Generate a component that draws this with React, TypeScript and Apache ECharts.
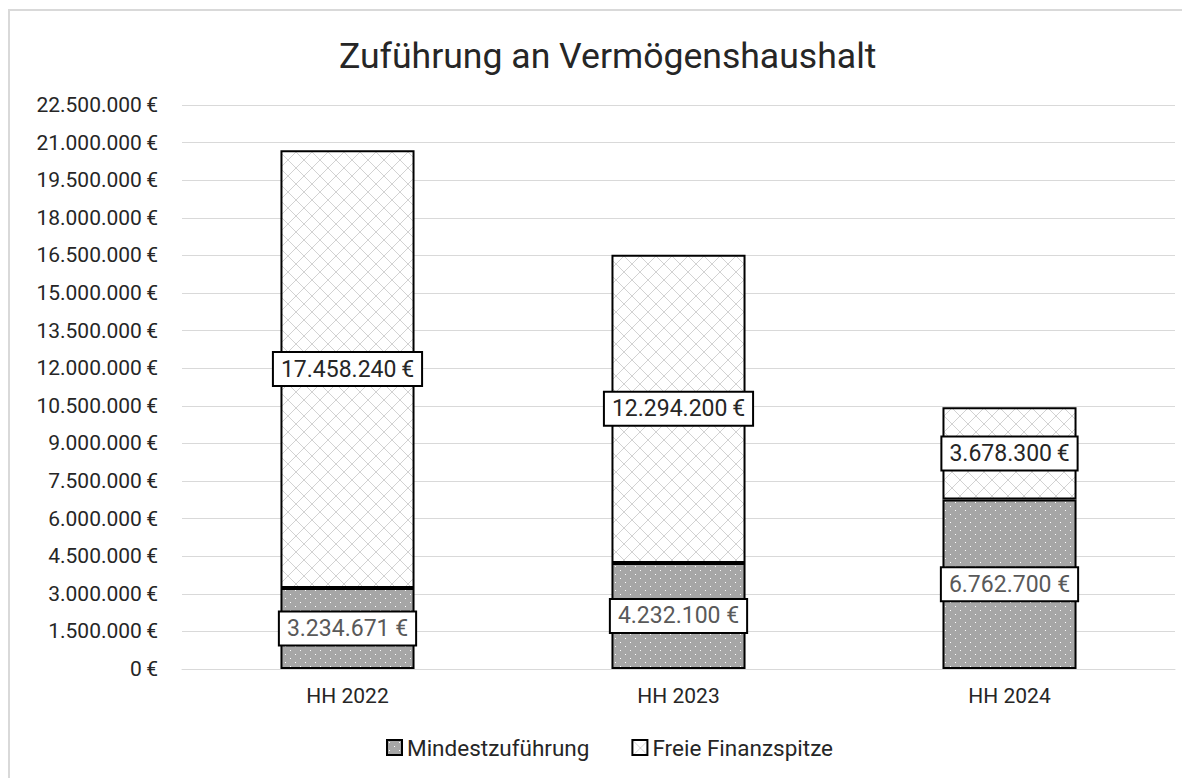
import React, { useEffect, useRef } from "react";
import * as echarts from "echarts";

const categories = ["HH 2022", "HH 2023", "HH 2024"];
const mindestzufuehrung = [3234671, 4232100, 6762700];
const freieFinanzspitze = [17458240, 12294200, 3678300];
const seriesNames = ["Mindestzuführung", "Freie Finanzspitze"];
const titleText = "Zuführung an Vermögenshaushalt";

const fmt = (n: number) => String(Math.round(n)).replace(/\B(?=(\d{3})+(?!\d))/g, ".");

function dotPattern(): HTMLCanvasElement {
  const c = document.createElement("canvas");
  c.width = 10;
  c.height = 8;
  const ctx = c.getContext("2d")!;
  ctx.fillStyle = "#a6a6a6";
  ctx.fillRect(0, 0, 10, 8);
  ctx.fillStyle = "#ffffff";
  ctx.fillRect(2, 2, 1, 1);
  ctx.fillRect(7, 6, 1, 1);
  return c;
}

function latticePattern(): HTMLCanvasElement {
  const s = 16;
  const c = document.createElement("canvas");
  c.width = s;
  c.height = s;
  const ctx = c.getContext("2d")!;
  ctx.fillStyle = "#ffffff";
  ctx.fillRect(0, 0, s, s);
  ctx.strokeStyle = "#d2d2d2";
  ctx.lineWidth = 1;
  ctx.beginPath();
  ctx.moveTo(0, 0);
  ctx.lineTo(s, s);
  ctx.moveTo(s, 0);
  ctx.lineTo(0, s);
  ctx.stroke();
  return c;
}

export default function App() {
  const ref = useRef<HTMLDivElement>(null);
  useEffect(() => {
    if (!ref.current) return;
    const chart = echarts.init(ref.current, undefined, { renderer: "svg" });
    const font = "Roboto";
    const labelBase = {
      show: true,
      position: "inside",
      fontFamily: font,
      fontSize: 23,
      backgroundColor: "#ffffff",
      borderColor: "#000000",
      borderWidth: 2,
      padding: [5, 7, 4, 7],
    };
    chart.setOption({
      animation: false,
      backgroundColor: "#ffffff",
      textStyle: { fontFamily: font },
      title: {
        text: titleText,
        left: 326,
        top: 25,
        textStyle: { fontFamily: font, fontSize: 35.6, fontWeight: "normal", color: "#262626" },
      },
      graphic: [
        {
          type: "rect",
          shape: { x: 1, y: 2, width: 1300, height: 900 },
          style: { fill: "none", stroke: "#d9d9d9", lineWidth: 2 },
          silent: true,
        },
      ],
      legend: {
        top: 723,
        left: 373,
        icon: "rect",
        itemWidth: 15,
        itemHeight: 15,
        itemGap: 42,
        textStyle: { fontFamily: font, fontSize: 22.5, color: "#262626" },
        data: seriesNames,
      },
      grid: { left: 174, right: 15, top: 97, bottom: 109, containLabel: false },
      xAxis: {
        type: "category",
        data: categories,
        axisLine: { show: true, lineStyle: { color: "#d9d9d9", width: 1 } },
        axisTick: { show: false },
        axisLabel: { fontFamily: font, fontSize: 21, color: "#262626", margin: 16 },
      },
      yAxis: {
        type: "value",
        min: 0,
        max: 22500000,
        interval: 1500000,
        axisLine: { show: false },
        axisTick: { show: false },
        splitLine: { lineStyle: { color: "#d9d9d9", width: 1 } },
        axisLabel: {
          fontFamily: font,
          fontSize: 21,
          color: "#262626",
          margin: 24,
          formatter: (v: number) => fmt(v) + "\u2009€",
        },
      },
      series: [
        {
          name: seriesNames[0],
          type: "bar",
          stack: "total",
          barWidth: "40.5%",
          data: mindestzufuehrung,
          itemStyle: {
            color: { image: dotPattern(), repeat: "repeat" },
            borderColor: "#000000",
            borderWidth: 2,
          },
          label: {
            ...labelBase,
            color: "#595959",
            formatter: (p: any) => fmt(p.value) + " €",
          },
        },
        {
          name: seriesNames[1],
          type: "bar",
          stack: "total",
          barWidth: "40.5%",
          data: freieFinanzspitze,
          itemStyle: {
            color: { image: latticePattern(), repeat: "repeat" },
            borderColor: "#000000",
            borderWidth: 2,
          },
          label: {
            ...labelBase,
            color: "#262626",
            formatter: (p: any) => fmt(p.value) + "\u2009€",
          },
        },
      ],
    });
    return () => chart.dispose();
  }, []);
  return <div ref={ref} style={{ width: 1182, height: 770 }} />;
}
